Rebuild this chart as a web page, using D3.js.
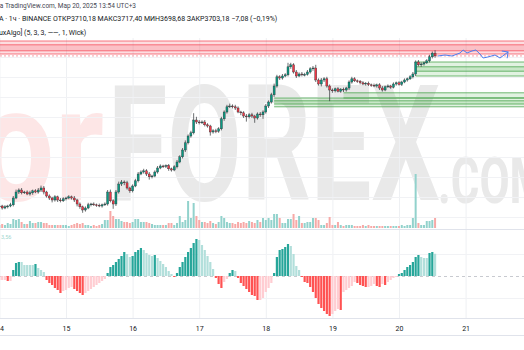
<!DOCTYPE html>
<html>
<head>
<meta charset="utf-8">
<script src="https://cdn.jsdelivr.net/npm/d3@7"></script>
<style>
  body { margin: 0; background: #fff; overflow: hidden; }
  svg { display: block; font-family: Roboto, "Noto Sans", sans-serif; }
</style>
</head>
<body>
<div id="chart"></div>
<script>
// Hourly bars, first one at 14 Mar 2025 00:00 (UTC)
var t0 = Date.UTC(2025, 2, 14, 0);
var firstOpen = 3326;

var closes = [
  3328,3323,3326,3328,3331,3348,3363,3368,3361,3363,
  3358,3361,3366,3363,3368,3373,3363,3353,3348,3343,
  3351,3343,3341,3346,3348,3351,3348,3343,3333,3326,
  3318,3323,3331,3333,3331,3330,3328,3331,3333,3363,
  3341,3333,3363,3383,3388,3386,3373,3366,3378,3391,
  3408,3413,3416,3408,3401,3403,3413,3423,3428,3427,
  3429,3421,3418,3426,3438,3451,3468,3486,3503,3511,
  3543,3538,3536,3538,3531,3528,3513,3516,3515,3521,
  3546,3563,3576,3578,3576,3573,3563,3561,3553,3551,
  3556,3553,3548,3558,3556,3563,3578,3588,3606,3628,
  3651,3648,3653,3656,3676,3681,3663,3653,3658,3656,
  3657,3663,3671,3673,3643,3633,3643,3646,3628,3618,
  3616,3621,3615,3620,3618,3623,3638,3646,3641,3640,
  3636,3633,3635,3631,3630,3628,3631,3623,3618,3626,
  3628,3625,3633,3636,3632,3638,3643,3646,3651,3658,
  3688,3681,3683,3686,3691,3701,3710.18,3703.18
];

// wick lengths above / below the body
var wickUp = [
  4,3,4,3,5,5,6,4,5,3, 4,5,3,4,5,6,5,3,4,3,
  4,3,5,4,3,4,3,5,3,4, 3,4,5,3,4,3,4,3,4,5,
  6,4,5,6,5,4,5,3,4,5, 5,4,5,4,5,3,4,5,4,3,
  3,4,3,4,5,4,5,6,4,5, 17,8,5,4,5,4,3,4,5,4,
  5,4,5,6,4,5,4,3,4,5, 4,5,3,4,5,4,5,4,5,6,
  5,4,5,4,10,5,4,5,4,5, 4,5,4,5,8,4,5,4,5,4,
  4,3,4,3,4,3,4,5,4,3, 3,4,3,4,3,4,3,4,5,3,
  4,3,4,3,4,3,4,3,4,5, 4,5,4,3,4,5,4,7.22
];
var wickDn = [
  5,4,3,4,3,4,3,5,4,3, 3,4,5,3,4,5,6,4,5,6,
  4,5,4,3,4,3,4,5,6,5, 7,4,3,4,3,4,3,4,3,4,
  4,12,5,4,5,6,4,5,4,3, 4,3,4,5,7,4,3,4,3,4,
  4,5,4,3,4,3,4,5,4,4, 4,5,4,3,4,4,9,4,5,4,
  4,5,4,3,4,5,3,6,5,12, 4,5,12,4,5,10,4,5,4,5,
  4,5,4,3,4,5,4,5,3,4, 4,3,4,5,5,4,6,5,4,28,
  5,4,3,4,5,4,5,4,3,4, 4,3,4,3,4,3,4,5,4,3,
  3,4,3,4,3,4,3,4,3,4, 5,4,5,4,3,4,4,4.5
];

// volume, K
var volumes = [
  3,4,3,5,4,9,8,9,6,4, 4,7,5,5,6,6,5,5,3,3,
  3,3,3,3,3,2,3,4,5,4, 5,3,3,2,3,2,3,4,8,8,
  17,12,9,9,7,6,6,5,6,9, 9,6,6,6,5,4,3,3,3,3,
  3,5,5,3,5,12,6,8,27,10, 25,12,8,6,6,5,7,5,4,6,
  12,10,6,5,5,4,6,5,6,5, 7,6,5,8,6,10,8,10,8,14,
  14,10,5,5,9,9,14,8,12,5, 5,6,6,10,10,8,3,3,5,11,
  3,3,6,3,2,3,3,3,2,2, 2,3,2,3,2,2,2,2,2,2,
  2,2,2,2,2,3,2,3,3,10, 54,5,3,3,7,7,8,10
];

// oscillator histogram
var osc = [
  -0.64,-0.64,-0.64,-0.8,-0.8,0.96,2.08,2.24,2.24,1.76,
  1.76,1.76,1.76,1.92,1.28,0.96,0.64,-0.64,-1.12,-1.44,
  -1.92,-2.24,-2.72,-2.4,-2.24,-1.92,-1.76,-2.08,-2.4,-2.72,
  -3.04,-2.72,-2.4,-2.08,-1.76,-1.44,-1.12,-0.8,-0.48,0.48,
  1.44,1.76,2.24,2.72,3.2,3.84,3.52,3.04,3.2,3.84,
  4.16,4.48,4.16,3.68,3.36,3.2,3.36,2.88,2.4,1.92,
  1.44,0.8,0.32,-0.16,0.48,1.44,2.24,3.04,3.84,4.48,
  5.28,5.92,5.76,4.96,4.16,3.2,2.24,1.12,-0.32,-1.28,
  -1.92,-0.96,-0.48,0.48,0.96,0.8,-0.32,-1.12,-1.6,-2.08,
  -2.56,-3.04,-3.2,-3.84,-3.84,-3.52,-2.56,-1.92,-1.12,0.48,
  3.04,4.16,4.32,4.64,5.12,4.8,3.52,1.6,0.96,-0.16,
  -0.96,-1.12,-1.76,-2.56,-3.52,-4.48,-5.12,-5.6,-6.08,-6.4,
  -6.08,-5.6,-5.28,-5.44,-2.56,-2.24,-1.92,-1.6,-0.96,-1.12,
  -1.44,-1.6,-1.76,-1.76,-1.6,-1.28,-1.6,-1.76,-1.28,-1.44,
  -0.96,-0.64,-0.32,-0.16,0.32,0.48,0.96,1.44,1.76,2.24,
  3.04,3.36,3.04,2.88,2.88,3.68,3.84,3.56
];

// order blocks: start bar, top, bottom, kind
var zoneStart  = [-30, -30, 99, 99, 124, 150, 150];
var zoneTop    = [3740.5, 3731, 3598, 3591, 3611, 3688, 3676];
var zoneBottom = [3708, 3716, 3576, 3583, 3598, 3653, 3665];
var zoneKind   = ["bear", "bear", "bull", "bull", "bull", "bull", "bull"];

// projected path drawn after the last bar (bar index, price)
var projBars   = [158, 160.6, 163.1, 166, 167.1, 168.5, 170.3, 171.7, 173.2, 174.3, 176, 178.6, 180.4, 183.3];
var projPrices = [3703, 3705.5, 3703, 3710.5, 3718, 3710.5, 3715.5, 3718, 3708, 3698, 3700.5, 3705.5, 3698, 3713];

var lastPrice = 3703.18;
var oscLabel = "3,56";
var header1 = "на TradingView.com, Мар 20, 2025 13:54 UTC+3";
var header2 = ["A · 1ч · BINANCE", "ОТКР3710,18", "МАКС3717,40", "МИН3698,68", "ЗАКР3703,18", "−7,08 (−0,19%)"];
var header3 = "uxAlgo] (5, 3, 3, ——, 1, Wick)";

// Build bars
var bars = closes.map(function(c, i) {
  var o = i === 0 ? firstOpen : closes[i - 1];
  return {
    t: new Date(t0 + i * 3600e3),
    o: o, c: c,
    h: Math.max(o, c) + wickUp[i],
    l: Math.min(o, c) - wickDn[i],
    v: volumes[i],
    m: osc[i],
    pm: i === 0 ? osc[0] : osc[i - 1]
  };
});

var W = 524, H = 350;
var svg = d3.select("#chart").append("svg")
    .attr("width", W)
    .attr("height", H);

var x = d3.scaleUtc()
    .domain([new Date(Date.UTC(2025, 2, 14)), new Date(Date.UTC(2025, 2, 22))])
    .range([-0.6, 532.2]);
var y = d3.scaleLinear().domain([3300, 3800]).range([217.2, 17.2]);
var yv = d3.scaleLinear().domain([0, 54]).range([228, 174]);
var yo = d3.scaleLinear().domain([-7, 7]).range([319.75, 232.25]);
var hourX = function(k) { return x(new Date(t0 + k * 3600e3)); };

var defs = svg.append("defs");
defs.append("clipPath").attr("id", "mainClip")
  .append("rect").attr("x", 0).attr("y", 38).attr("width", W).attr("height", 191);
defs.append("clipPath").attr("id", "oscClip")
  .append("rect").attr("x", 0).attr("y", 230).attr("width", W).attr("height", 88);
defs.append("marker")
    .attr("id", "arrow")
    .attr("viewBox", "-7 -7 8 14")
    .attr("refX", 0).attr("refY", 0)
    .attr("markerWidth", 8).attr("markerHeight", 14)
    .attr("markerUnits", "userSpaceOnUse")
    .attr("orient", "auto")
  .append("path")
    .attr("d", "M-4.5,-4.5L0,0L-4.5,4.5")
    .attr("fill", "none")
    .attr("stroke", "#4c7ff0")
    .attr("stroke-width", 1);

// Watermark
var wm = svg.append("g");
wm.append("text")
    .attr("x", 108).attr("y", 200)
    .attr("font-size", 162).attr("font-weight", "bold")
    .attr("textLength", 332).attr("lengthAdjust", "spacingAndGlyphs")
    .attr("fill", "#e9e9e9")
    .text("FOREX");
wm.append("text")
    .attr("x", -22).attr("y", 200)
    .attr("font-size", 162).attr("font-weight", "bold")
    .attr("textLength", 126).attr("lengthAdjust", "spacingAndGlyphs")
    .attr("fill", "#fde6e6")
    .text("or");
wm.append("text")
    .attr("x", 438).attr("y", 203)
    .attr("font-size", 64).attr("font-weight", "bold")
    .attr("textLength", 110).attr("lengthAdjust", "spacingAndGlyphs")
    .attr("fill", "#e9e9e9")
    .text(".COM");

// Grid
var days = d3.utcDay.range(new Date(Date.UTC(2025, 2, 14)), new Date(Date.UTC(2025, 2, 23)));
svg.append("g").selectAll("line").data(days).enter().append("line")
    .attr("x1", function(d) { return x(d) + 0.5; })
    .attr("x2", function(d) { return x(d) + 0.5; })
    .attr("y1", 38).attr("y2", 318)
    .attr("stroke", "#eef0f3");
svg.append("g").selectAll("line")
    .data(y.ticks(10).filter(function(p) { return y(p) > 38 && y(p) < 225; }))
    .enter().append("line")
    .attr("x1", 0).attr("x2", W)
    .attr("y1", function(p) { return Math.round(y(p)) + 0.5; })
    .attr("y2", function(p) { return Math.round(y(p)) + 0.5; })
    .attr("stroke", "#f1f2f5");
svg.append("g").selectAll("line").data([3.5, -3.5]).enter().append("line")
    .attr("x1", 0).attr("x2", W)
    .attr("y1", function(v) { return Math.round(yo(v)) + 0.5; })
    .attr("y2", function(v) { return Math.round(yo(v)) + 0.5; })
    .attr("stroke", "#f1f2f5");

// Pane borders
[229.5, 318.5, 335.5].forEach(function(yy) {
  svg.append("line").attr("x1", 0).attr("x2", W).attr("y1", yy).attr("y2", yy)
    .attr("stroke", "#e0e3eb");
});

var main = svg.append("g").attr("clip-path", "url(#mainClip)");

// Order blocks
var zones = zoneStart.map(function(s, i) {
  return { s: s, top: zoneTop[i], bot: zoneBottom[i], kind: zoneKind[i] };
});
var zoneFill = { bear: "rgba(242,54,69,0.17)", bull: "rgba(76,175,80,0.17)" };
var zoneLine = { bear: "rgba(242,54,69,0.65)", bull: "rgba(67,160,71,0.75)" };
var zg = main.append("g").selectAll("g").data(zones).enter().append("g");
zg.append("rect")
    .attr("x", function(d) { return hourX(d.s); })
    .attr("y", function(d) { return y(d.top); })
    .attr("width", function(d) { return W - hourX(d.s) + 10; })
    .attr("height", function(d) { return y(d.bot) - y(d.top); })
    .attr("fill", function(d) { return zoneFill[d.kind]; });
zg.selectAll("line")
    .data(function(d) { return [[d, d.top], [d, d.bot]]; })
    .enter().append("line")
    .attr("x1", function(e) { return hourX(e[0].s); })
    .attr("x2", W + 10)
    .attr("y1", function(e) { return y(e[1]); })
    .attr("y2", function(e) { return y(e[1]); })
    .attr("stroke", function(e) { return zoneLine[e[0].kind]; })
    .attr("stroke-width", 1);

// Last price line
main.append("line")
    .attr("x1", 0).attr("x2", W)
    .attr("y1", y(lastPrice)).attr("y2", y(lastPrice))
    .attr("stroke", "#f7a1a8")
    .attr("stroke-dasharray", "2,2");

// Volume
main.append("g").selectAll("rect").data(bars).enter().append("rect")
    .attr("x", function(d) { return x(d.t) - 1; })
    .attr("y", function(d) { return yv(d.v); })
    .attr("width", 2)
    .attr("height", function(d) { return yv(0) - yv(d.v); })
    .attr("fill", function(d) { return d.c >= d.o ? "#92d2cc" : "#f7a9a7"; });

// Candles
var cg = main.append("g").selectAll("g").data(bars).enter().append("g");
cg.append("line")
    .attr("x1", function(d) { return x(d.t); })
    .attr("x2", function(d) { return x(d.t); })
    .attr("y1", function(d) { return y(d.h); })
    .attr("y2", function(d) { return y(d.l); })
    .attr("stroke", "#2f3437")
    .attr("stroke-width", 0.7);
cg.append("rect")
    .attr("x", function(d) { return x(d.t) - 1; })
    .attr("y", function(d) { return y(Math.max(d.o, d.c)); })
    .attr("width", 2)
    .attr("height", function(d) { return Math.max(0.8, Math.abs(y(d.o) - y(d.c))); })
    .attr("fill", function(d) { return d.c >= d.o ? "#089981" : "#f23645"; })
    .attr("stroke", "#2f3437")
    .attr("stroke-width", 0.4);

// Projection path
var line = d3.line()
    .x(function(d) { return hourX(d[0]); })
    .y(function(d) { return y(d[1]); });
main.append("path")
    .datum(projBars.map(function(b, i) { return [b, projPrices[i]]; }))
    .attr("d", line)
    .attr("fill", "none")
    .attr("stroke", "#4c7ff0")
    .attr("stroke-width", 1)
    .attr("marker-end", "url(#arrow)");

// Oscillator pane
var og = svg.append("g").attr("clip-path", "url(#oscClip)");
og.append("line")
    .attr("x1", 0).attr("x2", W)
    .attr("y1", Math.round(yo(0)) + 0.5).attr("y2", Math.round(yo(0)) + 0.5)
    .attr("stroke", "#c8cad0")
    .attr("stroke-dasharray", "3,3");
og.selectAll("rect").data(bars).enter().append("rect")
    .attr("x", function(d) { return x(d.t) - 1.1; })
    .attr("y", function(d) { return yo(Math.max(0, d.m)); })
    .attr("width", 2.2)
    .attr("height", function(d) { return Math.abs(yo(d.m) - yo(0)); })
    .attr("fill", function(d) {
      if (d.m >= 0) return d.m > d.pm ? "#26a69a" : "#b2dfdb";
      return d.m < d.pm ? "#ff5252" : "#ffcdd2";
    });
og.append("text")
    .attr("x", 1).attr("y", 239)
    .attr("font-size", 5.5)
    .attr("fill", "#9fd6cf")
    .text(oscLabel);

// Time axis
var xAxis = d3.axisBottom(x)
    .ticks(d3.utcDay.every(1))
    .tickFormat(d3.utcFormat("%-d"))
    .tickSize(0)
    .tickPadding(3);
var ax = svg.append("g")
    .attr("transform", "translate(0,323)")
    .call(xAxis);
ax.select(".domain").remove();
ax.selectAll("text")
    .attr("font-size", 7)
    .attr("fill", "#131722")
    .attr("font-family", "Roboto, sans-serif");

// Header
var hd = svg.append("g").attr("fill", "#131722").attr("font-size", 7);
hd.append("text").attr("x", -4).attr("y", 8).attr("font-size", 6.5)
    .attr("fill", "#434651").text(header1);
hd.append("text").attr("x", -1).attr("y", 21)
    .text(header2.join("\u00a0"));
hd.append("text").attr("x", -1).attr("y", 35).text(header3);
</script>
</body>
</html>
